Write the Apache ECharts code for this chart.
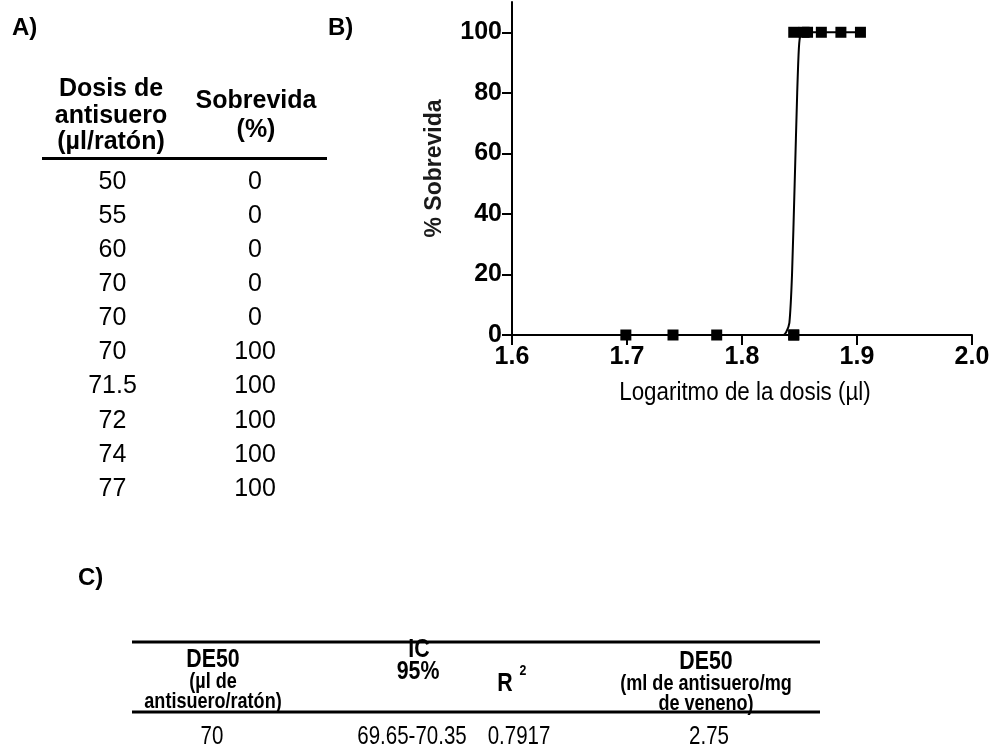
<!DOCTYPE html>
<html>
<head>
<meta charset="utf-8">
<script src="https://cdn.jsdelivr.net/npm/echarts@6/dist/echarts.min.js"></script>
<style>
  html, body { margin: 0; padding: 0; background: #fff; }
  #main { width: 995px; height: 751px; }
</style>
</head>
<body>
<div id="main"></div>
<script>
// Panel A: dose table
const doseHeader = ['Dosis de', 'antisuero', '(\u00b5l/rat\u00f3n)'];
const survivalHeader = ['Sobrevida', '(%)'];
const doses = ['50', '55', '60', '70', '70', '70', '71.5', '72', '74', '77'];
const survival = ['0', '0', '0', '0', '0', '100', '100', '100', '100', '100'];

// Panel B: observed points (log dose, % survival)
const deadLogDose = [1.699, 1.740, 1.778, 1.845, 1.845];
const deadSurvival = [0, 0, 0, 0, 0];
const aliveLogDose = [1.845, 1.854, 1.857, 1.869, 1.886, 1.903];
const aliveSurvival = [100, 100, 100, 100, 100, 100];

// Panel B: fitted dose-response curve
const curveLogDose = [1.699, 1.836, 1.8385, 1.8412, 1.8435, 1.8458, 1.848, 1.8495, 1.851, 1.853, 1.903];
const curveSurvival = [0, 0, 1, 4, 20, 50, 80, 95, 99.5, 100, 100];

const xTicks = [1.6, 1.7, 1.8, 1.9, 2.0];
const yTicks = [0, 20, 40, 60, 80, 100];
const xTitle = 'Logaritmo de la dosis (\u00b5l)';
const yTitle = '% Sobrevida';

// Panel C: summary table
const summaryValues = ['70', '69.65-70.35', '0.7917', '2.75'];

const zip = (xs, ys) => xs.map((x, i) => [x, ys[i]]);

const ARIAL = "'Liberation Sans', Arial, sans-serif";
const NARROW_SCALE = 0.82;   // condensed look for panel C and the x title

function txt(text, x, y, size, weight, opts) {
  opts = opts || {};
  const el = {
    type: 'text', x: x, y: y,
    style: {
      text: text, fontSize: size, fontWeight: weight, fontFamily: ARIAL,
      fill: '#000', align: opts.align || 'center', verticalAlign: 'middle',
      textAlign: opts.align || 'center', textVerticalAlign: 'middle'
    }
  };
  if (opts.scaleX) { el.scaleX = opts.scaleX; }
  return el;
}
function hline(x1, x2, y, w) {
  return { type: 'line', shape: { x1: x1, y1: y, x2: x2, y2: y }, style: { stroke: '#000', lineWidth: w } };
}
const narrow = { scaleX: NARROW_SCALE };

const graphics = [];
// panel letters
graphics.push(txt('A)', 12, 28, 24, 'bold', { align: 'left' }));
graphics.push(txt('B)', 328, 28, 24, 'bold', { align: 'left' }));
graphics.push(txt('C)', 78, 578, 24, 'bold', { align: 'left' }));

// table A
doseHeader.forEach((t, i) => graphics.push(txt(t, 111, 89 + i * 26.8, 25, 'bold')));
survivalHeader.forEach((t, i) => graphics.push(txt(t, 256, 101 + i * 29.5, 25, 'bold')));
graphics.push(hline(42, 327, 158.5, 3));
doses.forEach((d, i) => {
  graphics.push(txt(d, 112.5, 182 + i * 34.1, 25, 'normal'));
  graphics.push(txt(survival[i], 255, 182 + i * 34.1, 25, 'normal'));
});

// table C
graphics.push(hline(132, 820, 642, 3));
graphics.push(hline(132, 820, 712, 3));
graphics.push(txt('DE50', 213, 660, 26, 'bold', narrow));
graphics.push(txt('(\u00b5l de', 213, 682, 22, 'bold', narrow));
graphics.push(txt('antisuero/rat\u00f3n)', 213, 702, 22, 'bold', narrow));
graphics.push(txt('IC', 419, 650, 26, 'bold', narrow));
graphics.push(txt('95%', 418, 672, 26, 'bold', narrow));
graphics.push(txt('R', 505, 684, 26, 'bold', narrow));
graphics.push(txt('2', 523, 671, 15, 'bold', narrow));
graphics.push(txt('DE50', 706, 662, 26, 'bold', narrow));
graphics.push(txt('(ml de antisuero/mg', 706, 684, 22, 'bold', narrow));
graphics.push(txt('de veneno)', 706, 704, 22, 'bold', narrow));
const summaryX = [212, 412, 519, 709];
summaryValues.forEach((v, i) => graphics.push(txt(v, summaryX[i], 737, 25, 'normal', narrow)));

// x axis title, condensed
graphics.push(txt(xTitle, 745, 393, 26, 'normal', { scaleX: 0.86 }));

const chart = echarts.init(document.getElementById('main'), null, { renderer: 'canvas' });
chart.setOption({
  animation: false,
  backgroundColor: '#fff',
  grid: { left: 512, top: 2, width: 460, height: 333 },
  xAxis: {
    type: 'value', min: 1.6, max: 2.0,
    axisLine: { show: true, onZero: false, lineStyle: { color: '#000', width: 2 } },
    axisTick: { show: true, length: 10, lineStyle: { color: '#000', width: 2 }, customValues: xTicks },
    axisLabel: { fontSize: 25, fontWeight: 'bold', fontFamily: ARIAL, color: '#000', margin: 10,
                 customValues: xTicks, formatter: v => v.toFixed(1) },
    splitLine: { show: false }
  },
  yAxis: {
    type: 'value', min: 0, max: 110,
    name: yTitle, nameLocation: 'middle', nameGap: 66, nameRotate: 90,
    nameTextStyle: { fontSize: 23, fontWeight: 'bold', fontFamily: ARIAL, color: '#1a1a1a' },
    axisLine: { show: true, onZero: false, lineStyle: { color: '#000', width: 2 } },
    axisTick: { show: true, length: 10, lineStyle: { color: '#000', width: 2 }, customValues: yTicks },
    axisLabel: { fontSize: 25, fontWeight: 'bold', fontFamily: ARIAL, color: '#000', margin: 10,
                 customValues: yTicks },
    splitLine: { show: false }
  },
  series: [
    {
      type: 'line', data: zip(curveLogDose, curveSurvival), smooth: 0.2,
      showSymbol: false, lineStyle: { color: '#000', width: 2 }, z: 2
    },
    {
      type: 'scatter', data: zip(deadLogDose, deadSurvival), symbol: 'rect', symbolSize: 11,
      itemStyle: { color: '#000', opacity: 1 }, z: 3
    },
    {
      type: 'scatter', data: zip(aliveLogDose, aliveSurvival), symbol: 'rect', symbolSize: 11,
      itemStyle: { color: '#000', opacity: 1 }, z: 3
    }
  ],
  graphic: { elements: graphics }
});
</script>
</body>
</html>
